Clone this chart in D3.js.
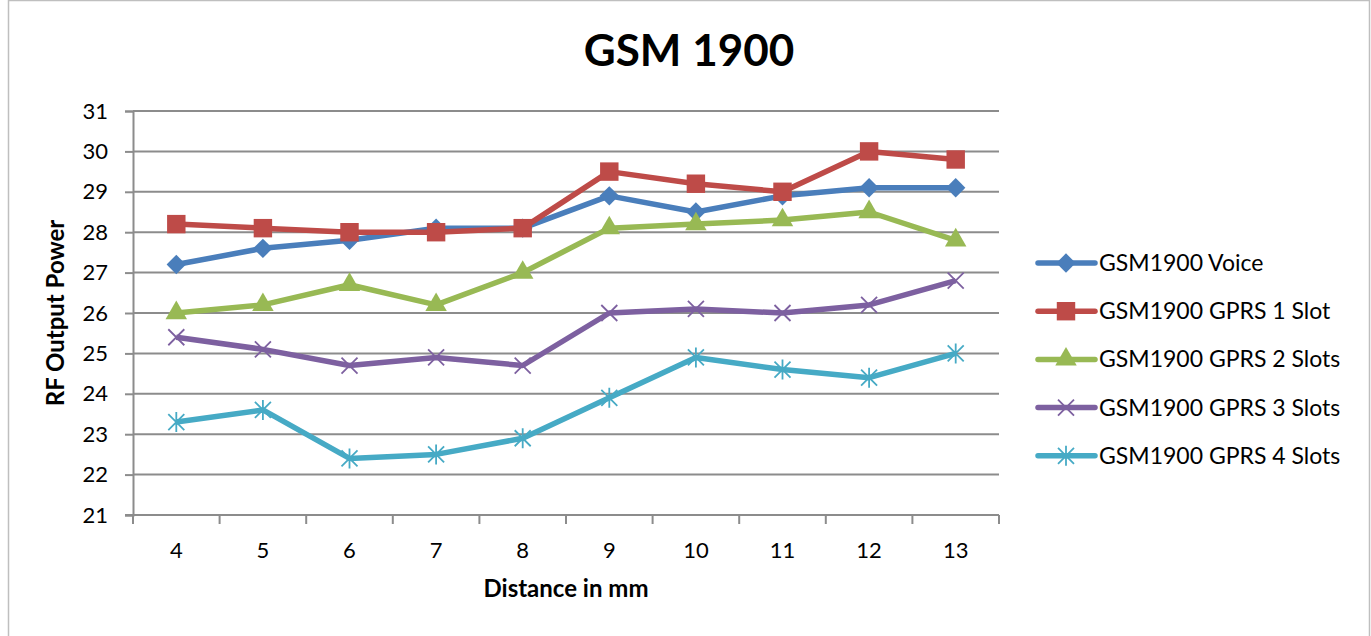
<!DOCTYPE html>
<html>
<head>
<meta charset="utf-8">
<script src="https://cdn.jsdelivr.net/npm/d3@7"></script>
<style>
  body { margin: 0; background: #fff; }
  svg { display: block; font-family: Lato, "Open Sans", sans-serif; }
</style>
</head>
<body>
<svg id="chart" width="1371" height="636"></svg>
<script>
var distances = [4, 5, 6, 7, 8, 9, 10, 11, 12, 13];
var yTicks = [21, 22, 23, 24, 25, 26, 27, 28, 29, 30, 31];

var voice = [27.2, 27.6, 27.8, 28.1, 28.1, 28.9, 28.5, 28.9, 29.1, 29.1];
var gprs1 = [28.2, 28.1, 28.0, 28.0, 28.1, 29.5, 29.2, 29.0, 30.0, 29.8];
var gprs2 = [26.0, 26.2, 26.7, 26.2, 27.0, 28.1, 28.2, 28.3, 28.5, 27.8];
var gprs3 = [25.4, 25.1, 24.7, 24.9, 24.7, 26.0, 26.1, 26.0, 26.2, 26.8];
var gprs4 = [23.3, 23.6, 22.4, 22.5, 22.9, 23.9, 24.9, 24.6, 24.4, 25.0];

var seriesNames = ["GSM1900 Voice", "GSM1900 GPRS 1 Slot", "GSM1900 GPRS 2 Slots",
                   "GSM1900 GPRS 3 Slots", "GSM1900 GPRS 4 Slots"];
var seriesColors = ["#4a7ebb", "#be4b48", "#98b954", "#7d60a0", "#46aac5"];
var seriesMarkers = ["diamond", "square", "triangle", "x", "star"];

var series = [voice, gprs1, gprs2, gprs3, gprs4].map(function(vals, i) {
    return {name: seriesNames[i], color: seriesColors[i], marker: seriesMarkers[i], values: vals};
});

var svg = d3.select("#chart");

// outer frame
svg.append("rect")
    .attr("x", 8.5).attr("y", 0.5)
    .attr("width", 1361).attr("height", 660)
    .attr("fill", "none")
    .attr("stroke", "#bfbfbf")
    .attr("stroke-width", 1.5);

var plot = {left: 133, right: 999, top: 111, bottom: 515};

var x = d3.scaleBand()
    .domain(distances)
    .range([plot.left, plot.right]);

var y = d3.scaleLinear()
    .domain([21, 31])
    .range([plot.bottom, plot.top]);

// gridlines
svg.append("g").selectAll("line")
    .data(yTicks.slice(1))
    .join("line")
    .attr("x1", plot.left).attr("x2", plot.right)
    .attr("y1", function(d) { return y(d); })
    .attr("y2", function(d) { return y(d); })
    .attr("stroke", "#8c8c8c")
    .attr("stroke-width", 2);

// y axis
var yAxis = svg.append("g")
    .attr("transform", "translate(" + plot.left + ",0)")
    .call(d3.axisLeft(y).tickValues(yTicks).tickSize(8).tickPadding(17).tickFormat(d3.format("d")));
yAxis.select(".domain").attr("stroke", "#8c8c8c").attr("stroke-width", 2);
yAxis.selectAll(".tick line").attr("stroke", "#8c8c8c").attr("stroke-width", 2);
yAxis.selectAll(".tick text").attr("font-size", 22).attr("fill", "#000")
    .attr("font-family", "Lato, sans-serif");

// x axis with ticks at band edges
var xAxis = svg.append("g")
    .attr("transform", "translate(0," + plot.bottom + ")");
xAxis.append("line")
    .attr("x1", plot.left - 8).attr("x2", plot.right)
    .attr("stroke", "#8c8c8c").attr("stroke-width", 2);
var edges = distances.map(function(d) { return x(d); }).concat([plot.right]);
xAxis.selectAll("line.edge")
    .data(edges)
    .join("line")
    .attr("class", "edge")
    .attr("x1", function(d) { return d; }).attr("x2", function(d) { return d; })
    .attr("y1", 0).attr("y2", 9)
    .attr("stroke", "#8c8c8c").attr("stroke-width", 2);
xAxis.selectAll("text")
    .data(distances)
    .join("text")
    .attr("x", function(d) { return x(d) + x.bandwidth() / 2; })
    .attr("y", 43)
    .attr("text-anchor", "middle")
    .attr("font-size", 22)
    .text(function(d) { return d; });

// titles
svg.append("text")
    .attr("x", 689).attr("y", 66)
    .attr("text-anchor", "middle")
    .attr("font-size", 44)
    .attr("font-weight", "bold")
    .text("GSM 1900");

svg.append("text")
    .attr("x", 566).attr("y", 597)
    .attr("text-anchor", "middle")
    .attr("font-size", 24)
    .attr("font-weight", "bold")
    .text("Distance in mm");

svg.append("text")
    .attr("transform", "translate(64,313) rotate(-90)")
    .attr("text-anchor", "middle")
    .attr("font-size", 24)
    .attr("font-weight", "bold")
    .text("RF Output Power");

function markerPath(type) {
    if (type == "diamond") return d3.symbol(d3.symbolDiamond2, 240)();
    if (type == "square") return d3.symbol(d3.symbolSquare, 340)();
    if (type == "triangle") return d3.symbol(d3.symbolTriangle, 200)();
    if (type == "x") return "M-8,-8L8,8M-8,8L8,-8";
    return "M-8,-8L8,8M-8,8L8,-8M0,-10L0,10";
}

function drawMarker(sel, s) {
    var stroked = s.marker == "x" || s.marker == "star";
    sel.append("path")
        .attr("d", markerPath(s.marker))
        .attr("fill", stroked ? "none" : s.color)
        .attr("stroke", s.color)
        .attr("stroke-width", stroked ? 1.8 : 0);
}

var line = d3.line()
    .x(function(d, i) { return x(distances[i]) + x.bandwidth() / 2; })
    .y(function(d) { return y(d); });

series.forEach(function(s) {
    var g = svg.append("g").attr("class", "series");
    g.append("path")
        .attr("d", line(s.values))
        .attr("fill", "none")
        .attr("stroke", s.color)
        .attr("stroke-width", 5.5)
        .attr("stroke-linejoin", "round");
    s.values.forEach(function(v, i) {
        var m = g.append("g")
            .attr("transform", "translate(" + (x(distances[i]) + x.bandwidth() / 2) + "," + y(v) + ")");
        drawMarker(m, s);
    });
});

// legend
var legend = svg.append("g").attr("transform", "translate(1038,263)");
series.forEach(function(s, i) {
    var row = legend.append("g").attr("transform", "translate(0," + (i * 48.2) + ")");
    row.append("line")
        .attr("x1", 0).attr("x2", 57)
        .attr("stroke", s.color).attr("stroke-width", 5.5)
        .attr("stroke-linecap", "round");
    var m = row.append("g").attr("transform", "translate(28,0)");
    drawMarker(m, s);
    row.append("text")
        .attr("x", 61).attr("y", 8)
        .attr("font-size", 23)
        .text(s.name);
});
</script>
</body>
</html>
